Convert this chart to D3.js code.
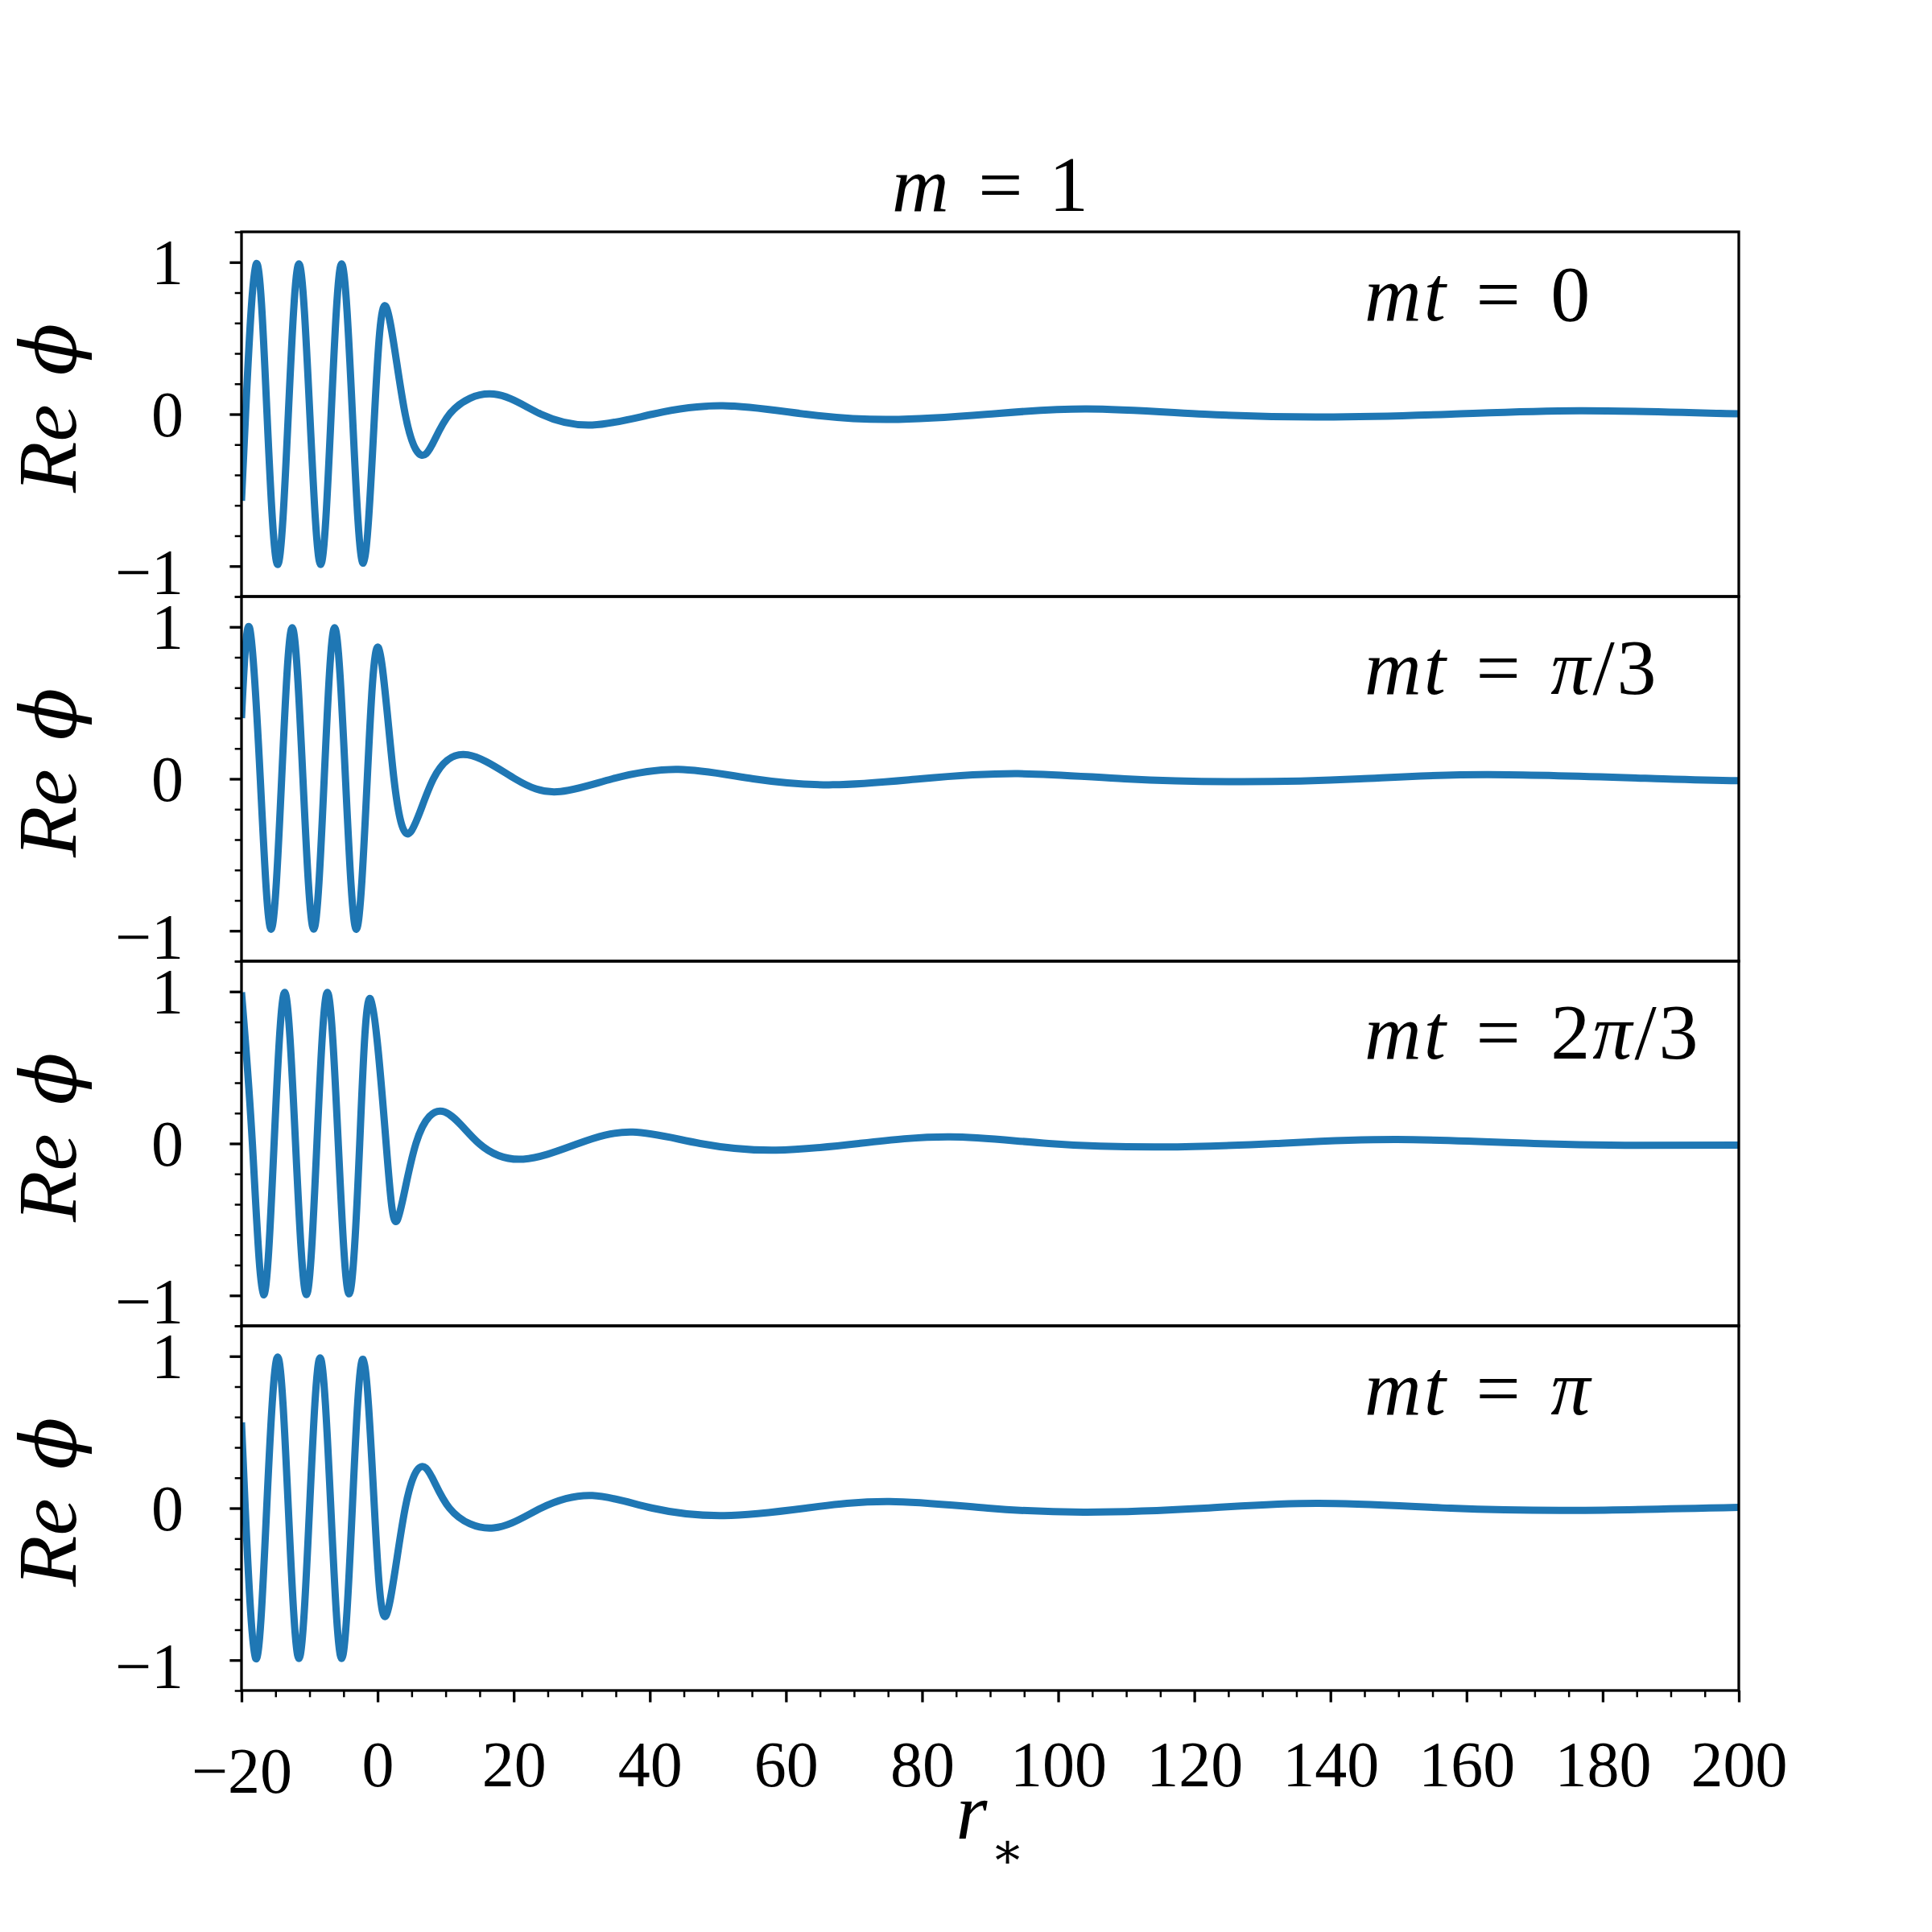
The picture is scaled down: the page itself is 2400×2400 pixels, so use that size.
<!DOCTYPE html>
<html>
<head>
<meta charset="utf-8">
<script src="https://cdn.jsdelivr.net/npm/d3@7"></script>
<style>
  body { margin: 0; background: #fff; }
  text { font-family: "Liberation Serif", "DejaVu Serif", serif; fill: #000; }
</style>
</head>
<body>
<svg id="chart"></svg>
<script>
// values (r_*, Re phi), peaks / troughs / zero crossings
const rMt0 = [-20, -19.4, -17.83, -16.25, -14.68, -13.12, -11.56, -9.96, -8.37, -6.83, -5.29, -3.7, -2.1, -0.45, 1.21, 4.05, 7.13, 10.56, 17.07, 24, 31.55, 40.4, 50.7, 62.9, 75.2, 89.7, 104.2, 121.5, 138.7, 157.7, 176.6, 200];
const phiMt0 = [-0.57, 0, 0.99, 0, -0.99, 0, 0.99, 0, -0.99, 0, 0.99, 0, -0.98, 0, 0.71, 0, -0.26, 0, 0.132, 0, -0.071, 0, 0.055, 0, -0.035, 0, 0.034, 0, -0.019, 0, 0.023, 0.002];

const rMt1 = [-20, -18.82, -17.24, -15.66, -14.1, -12.55, -10.97, -9.39, -7.85, -6.32, -4.72, -3.12, -1.52, 0.11, 2.4, 4.84, 8.19, 13.24, 20.2, 26.4, 34.5, 44.2, 55.2, 66.9, 79.7, 94.1, 109.8, 127.0, 144.3, 163.2, 188.9, 200];
const phiMt1 = [0.40, 0.995, 0, -0.99, 0, 0.995, 0, -0.99, 0, 0.995, 0, -0.99, 0, 0.864, 0, -0.35, 0, 0.158, 0, -0.085, 0, 0.062, 0, -0.039, 0, 0.034, 0, -0.019, 0, 0.028, 0, -0.012];

const rMt2 = [-20, -18.4, -16.77, -15.21, -13.65, -12.06, -10.46, -8.92, -7.38, -5.78, -4.19, -2.63, -1.07, 1.25, 2.87, 5.63, 9.85, 14.9, 21.4, 29.5, 37.5, 47.4, 58.5, 70.7, 84.1, 98.6, 115.3, 132.0, 149.8, 169.9, 183.3, 200];
const phiMt2 = [0.995, 0, -0.995, 0, 0.995, 0, -0.995, 0, 0.995, 0, -0.99, 0, 0.953, 0, -0.506, 0, 0.208, 0, -0.103, 0, 0.075, 0, -0.044, 0, 0.044, 0, -0.023, 0, 0.026, 0, -0.012, -0.011];

const rMt3 = [-20, -19.45, -17.91, -16.3, -14.68, -13.12, -11.56, -10.0, -8.45, -6.87, -5.29, -3.72, -2.14, -0.47, 1.21, 4.05, 7.09, 10.56, 17.07, 24, 31.55, 40.4, 50.9, 62.9, 75.2, 89.7, 104.2, 121.5, 138.2, 157.7, 176.6, 200];
const phiMt3 = [0.564, 0, -0.99, 0, 0.995, 0, -0.99, 0, 0.99, 0, -0.99, 0, 0.98, 0, -0.709, 0, 0.264, 0, -0.13, 0, 0.083, 0, -0.049, 0, 0.044, 0, -0.026, 0, 0.032, 0, -0.014, 0.005];

// panel labels: [text, italic]
const panelLabels = [
  [["mt", true], [" = 0", false]],
  [["mt", true], [" = ", false], ["π", true], ["/3", false]],
  [["mt", true], [" = 2", false], ["π", true], ["/3", false]],
  [["mt", true], [" = ", false], ["π", true]]
];

const xTickValues = [-20, 0, 20, 40, 60, 80, 100, 120, 140, 160, 180, 200];
const xTickLabels = ["−20", "0", "20", "40", "60", "80", "100", "120", "140", "160", "180", "200"];
const yTickValues = [-1, 0, 1];
const yTickLabels = ["−1", "0", "1"];
const yMinorValues = [-1.2, -0.8, -0.6, -0.4, -0.2, 0.2, 0.4, 0.6, 0.8, 1.2];
const xDomain = [-20, 200];
const yDomain = [-1.2, 1.2];

const W = 2400, H = 2400;
const margin = {top: 288, right: 240, bottom: 300, left: 300};
const plotW = W - margin.left - margin.right;
const panelH = (H - margin.top - margin.bottom) / 4;
const lineColor = '#1f77b4';
const tickFont = 80, labelFont = 98;
const majorLen = 14.6, minorLen = 8.3;
const serif = '"Liberation Serif", "DejaVu Serif", serif';

class WavePanel {
  constructor(_config, _data) {
    this.config = {
      parentElement: _config.parentElement,
      top: _config.top,
      width: _config.width,
      height: _config.height,
      label: _config.label,
      labelDrop: _config.labelDrop,
      index: _config.index,
      showXAxis: _config.showXAxis || false
    };
    this.data = _data;
    this.initVis();
  }

  initVis() {
    let vis = this;

    vis.chart = vis.config.parentElement.append('g')
        .attr('transform', `translate(0,${vis.config.top})`);

    vis.xScale = d3.scaleLinear().domain(xDomain).range([0, vis.config.width]);
    vis.yScale = d3.scaleLinear().domain(yDomain).range([vis.config.height, 0]);

    vis.chart.append('clipPath')
        .attr('id', `clip-${vis.config.index}`)
      .append('rect')
        .attr('width', vis.config.width)
        .attr('height', vis.config.height);

    vis.renderVis();
  }

  renderVis() {
    let vis = this;

    let line = d3.line()
        .x(d => vis.xScale(d.r))
        .y(d => vis.yScale(d.v))
        .curve(d3.curveNatural);

    vis.chart.append('path')
        .datum(vis.data)
        .attr('clip-path', `url(#clip-${vis.config.index})`)
        .attr('fill', 'none')
        .attr('stroke', lineColor)
        .attr('stroke-width', 9)
        .attr('stroke-linejoin', 'round')
        .attr('d', line);

    // minor y ticks
    let yMinor = vis.chart.append('g')
        .call(d3.axisLeft(vis.yScale).tickValues(yMinorValues).tickSize(minorLen).tickSizeOuter(0).tickFormat(''));
    yMinor.select('.domain').remove();
    yMinor.selectAll('line').attr('stroke-width', 2.5);

    // major y ticks
    let yMajor = vis.chart.append('g')
        .call(d3.axisLeft(vis.yScale).tickValues(yTickValues).tickSize(majorLen).tickSizeOuter(0)
          .tickFormat((d, i) => yTickLabels[i]));
    yMajor.select('.domain').remove();
    yMajor.selectAll('line').attr('stroke-width', 3.3);
    yMajor.selectAll('text')
        .attr('x', -72)
        .attr('dy', null)
        .attr('y', d => d < 0 ? 34 : 27)
        .attr('font-size', tickFont)
        .attr('font-family', serif)
        .attr('fill', '#000');

    if (vis.config.showXAxis) {
      let xMinor = vis.chart.append('g')
          .attr('transform', `translate(0,${vis.config.height})`)
          .call(d3.axisBottom(vis.xScale)
            .tickValues(d3.range(-20, 201, 5).filter(v => v % 20 !== 0))
            .tickSize(minorLen).tickSizeOuter(0).tickFormat(''));
      xMinor.select('.domain').remove();
      xMinor.selectAll('line').attr('stroke-width', 2.5);

      let xMajor = vis.chart.append('g')
          .attr('transform', `translate(0,${vis.config.height})`)
          .call(d3.axisBottom(vis.xScale).tickValues(xTickValues).tickSize(majorLen).tickSizeOuter(0)
            .tickFormat((d, i) => xTickLabels[i]));
      xMajor.select('.domain').remove();
      xMajor.selectAll('line').attr('stroke-width', 3.3);
      xMajor.selectAll('text')
          .attr('dy', null)
          .attr('y', d => d < 0 ? 127 : 119)
          .attr('font-size', tickFont)
          .attr('font-family', serif)
          .attr('fill', '#000');
    }

    // frame
    vis.chart.append('rect')
        .attr('width', vis.config.width)
        .attr('height', vis.config.height)
        .attr('fill', 'none')
        .attr('stroke', '#000')
        .attr('stroke-width', 3.3);

    // panel label
    let lbl = vis.chart.append('text')
        .attr('x', 1395)
        .attr('y', vis.config.labelDrop)
        .attr('font-size', labelFont)
        .style('white-space', 'pre')
        .style('word-spacing', '7px')
        .style('letter-spacing', '3px');
    lbl.selectAll('tspan')
      .data(vis.config.label)
      .join('tspan')
        .attr('font-style', d => d[1] ? 'italic' : 'normal')
        .text(d => d[0]);

    // y label
    let yl = vis.chart.append('text')
        .attr('transform', `translate(${94 - margin.left},${vis.config.height / 2 - 8}) rotate(-90)`)
        .attr('text-anchor', 'middle')
        .attr('font-size', 104)
        .attr('font-style', 'italic')
        .style('white-space', 'pre')
        .style('word-spacing', '10px');
    yl.append('tspan').text('Re ');
    yl.append('tspan').attr('font-family', '"DejaVu Serif", serif').attr('font-size', 96).text('ϕ');
  }
}

const svg = d3.select('#chart')
    .attr('width', W)
    .attr('height', H);

svg.append('rect').attr('width', W).attr('height', H).attr('fill', '#fff');

const plot = svg.append('g')
    .attr('transform', `translate(${margin.left},0)`);

const series = [[rMt0, phiMt0], [rMt1, phiMt1], [rMt2, phiMt2], [rMt3, phiMt3]];
const labelDrops = [110, 121, 121, 110];

series.forEach(([rs, vs], i) => {
  new WavePanel({
    parentElement: plot,
    top: margin.top + i * panelH,
    width: plotW,
    height: panelH,
    label: panelLabels[i],
    labelDrop: labelDrops[i],
    index: i,
    showXAxis: i === 3
  }, rs.map((r, j) => ({r: r, v: vs[j]})));
});

// title
const title = svg.append('text')
    .attr('x', margin.left + plotW / 2)
    .attr('y', 262)
    .attr('text-anchor', 'middle')
    .attr('font-size', labelFont)
    .style('white-space', 'pre')
    .style('word-spacing', '8px');
title.append('tspan').attr('font-style', 'italic').style('letter-spacing', '4px').text('m');
title.append('tspan').text(' = 1');

// x label
const xl = svg.append('text')
    .attr('x', margin.left + plotW / 2)
    .attr('y', 2284)
    .attr('text-anchor', 'middle')
    .attr('font-size', 100);
xl.append('tspan').attr('font-style', 'italic').text('r');
xl.append('tspan').attr('dy', 36).attr('dx', 4).attr('font-size', 62).attr('font-family', '"DejaVu Serif", serif').text('∗');
</script>
</body>
</html>
